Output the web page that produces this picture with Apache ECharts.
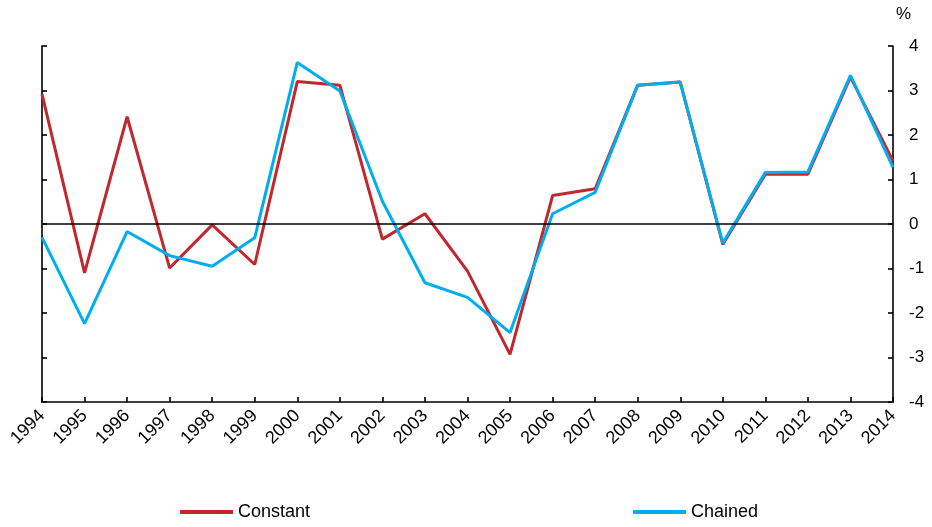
<!DOCTYPE html>
<html><head><meta charset="utf-8">
<script src="https://cdn.jsdelivr.net/npm/echarts@6/dist/echarts.min.js"></script>
<style>html,body{margin:0;padding:0;background:#fff}#c{width:932px;height:527px}</style>
</head><body><div id="c"></div>
<script>
var years = ['1994','1995','1996','1997','1998','1999','2000','2001','2002','2003','2004','2005','2006','2007','2008','2009','2010','2011','2012','2013','2014'];
var constant = [2.92,-1.10,2.41,-0.99,-0.02,-0.91,3.20,3.12,-0.34,0.23,-1.06,-2.93,0.64,0.79,3.12,3.19,-0.46,1.12,1.12,3.30,1.42];
var chained = [-0.30,-2.24,-0.17,-0.71,-0.95,-0.31,3.63,2.99,0.51,-1.32,-1.65,-2.44,0.23,0.71,3.12,3.19,-0.43,1.16,1.17,3.34,1.27];
var yTicks = [-4,-3,-2,-1,0,1,2,3,4];

var RED = '#C1272D', BLUE = '#00AEEF';
var FONT = 'Liberation Sans, Arial, sans-serif';
var chart = echarts.init(document.getElementById('c'), null, {renderer:'canvas'});
var axisLine = {show:true, onZero:false, lineStyle:{color:'#000', width:1.6}};
var axisTick = {show:true, inside:true, length:5, lineStyle:{color:'#000', width:1.6}};
chart.setOption({
  animation:false,
  backgroundColor:'#fff',
  grid:{left:42, right:39, top:46, bottom:125, containLabel:false},
  legend:[
    {data:['Constant'], left:180, top:503, padding:0, itemWidth:53, itemHeight:4, itemGap:0,
     icon:'rect', textStyle:{fontFamily:FONT, fontSize:18, color:'#000', padding:[0,0,0,0]}},
    {data:['Chained'], left:633, top:503, padding:0, itemWidth:53, itemHeight:4, itemGap:0,
     icon:'rect', textStyle:{fontFamily:FONT, fontSize:18, color:'#000', padding:[0,0,0,0]}}
  ],
  graphic:[{type:'text', left:896, top:6, style:{text:'%', fontFamily:FONT, fontSize:17, fill:'#000'}}],
  xAxis:{type:'category', data:years, boundaryGap:false,
    axisLine:axisLine, axisTick:Object.assign({alignWithLabel:true}, axisTick),
    axisLabel:{rotate:45, fontFamily:FONT, fontSize:18, color:'#000', margin:11, interval:0},
    splitLine:{show:false}},
  yAxis:[
    {type:'value', position:'left', min:-4, max:4, interval:1,
     axisLine:axisLine, axisTick:axisTick, axisLabel:{show:false}, splitLine:{show:false}},
    {type:'value', position:'right', min:-4, max:4, interval:1,
     axisLine:axisLine, axisTick:axisTick,
     axisLabel:{show:true, fontFamily:FONT, fontSize:17, color:'#000', margin:16,
       formatter:function(v){return String(v);}}, splitLine:{show:false}}
  ],
  series:[
    {name:'Constant', type:'line', data:constant, yAxisIndex:0, symbol:'none',
     lineStyle:{color:RED, width:3}, itemStyle:{color:RED},
     markLine:{silent:true, symbol:['none','none'], label:{show:false},
       lineStyle:{color:'#000', width:1.6, type:'solid'}, data:[{yAxis:0}]}},
    {name:'Chained', type:'line', data:chained, yAxisIndex:0, symbol:'none',
     lineStyle:{color:BLUE, width:3}, itemStyle:{color:BLUE}}
  ]
});
</script></body></html>
